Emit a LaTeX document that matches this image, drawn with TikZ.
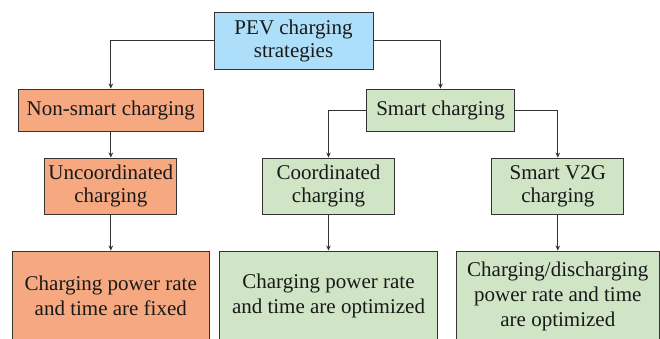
\documentclass[tikz,border=0pt]{standalone}
\usepackage{fontspec}
\setmainfont{Liberation Serif}
\usepackage{xcolor}
\usepackage{tikz}
\usetikzlibrary{arrows.meta,positioning}
\definecolor{pevBlue}{HTML}{ADDFFA}
\definecolor{pevOrange}{HTML}{F6A981}
\definecolor{pevGreen}{HTML}{CFE5C5}
\definecolor{pevLine}{HTML}{333333}

\begin{document}
\begin{tikzpicture}[x=1pt, y=-1pt, >={Stealth[length=5pt,width=4.5pt]},
  box/.style={draw=pevLine, line width=0.9pt, inner sep=0pt, align=center,
    text=black!90, font=\fontsize{21}{23}\selectfont},
  tall/.style={box, font=\fontsize{21}{25}\selectfont},
  link/.style={pevLine, line width=0.8pt, ->}]
\useasboundingbox (0,0) rectangle (660,338);
\clip (0,0) rectangle (660,338);
% --- levels 1 and 2 ---
  \node[box, fill=pevBlue, minimum width=159pt, minimum height=57pt] (pev) at (293.5,40.5) {PEV charging\\strategies};
  \node[box, fill=pevOrange, minimum width=185.5pt, minimum height=42pt] (nonsmart) at (110.8,110) {Non-smart charging};
  \node[box, fill=pevGreen, minimum width=148.5pt, minimum height=42pt] (smart) at (440.5,110) {Smart charging};
% --- level 3 ---
  \node[box, fill=pevOrange, minimum width=132pt, minimum height=56pt] (uncoord) at (110.8,186) {Uncoordinated\\charging};
  \node[box, fill=pevGreen, minimum width=132pt, minimum height=56pt] (coord) at (328.5,186) {Coordinated\\charging};
  \node[box, fill=pevGreen, minimum width=132pt, minimum height=56pt] (vtwog) at (557.8,186) {Smart V2G\\charging};
% --- level 4 ---
  \node[tall, fill=pevOrange, minimum width=196.5pt, minimum height=90pt] (fixed) at (110.8,296) {Charging power rate\\and time are fixed};
  \node[tall, fill=pevGreen, minimum width=218.5pt, minimum height=90pt] (optim) at (328.5,296) {Charging power rate\\and time are optimized};
  \node[tall, fill=pevGreen, minimum width=203.5pt, minimum height=90pt] (vtwogopt) at (557.8,296) {Charging/discharging\\power rate and time\\are optimized};
% --- connectors ---
  \draw[link] (pev.west) -| (nonsmart.north);
  \draw[link] (pev.east) -| (smart.north);
  \draw[link] (nonsmart) -- (uncoord);
  \draw[link] (smart.west) -| (coord.north);
  \draw[link] (smart.east) -| (vtwog.north);
  \draw[link] (uncoord) -- (fixed);
  \draw[link] (coord) -- (optim);
  \draw[link] (vtwog) -- (vtwogopt);
\end{tikzpicture}
\end{document}
